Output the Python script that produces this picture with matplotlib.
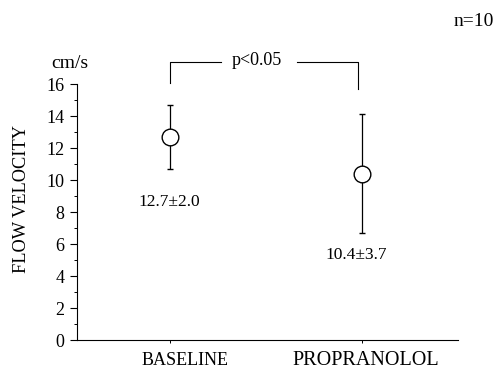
import matplotlib
matplotlib.use("Agg")
import matplotlib.pyplot as plt
from matplotlib.ticker import MultipleLocator

# data
groups = ["BASELINE", "PROPRANOLOL"]
means = [12.7, 10.4]
sds = [2.0, 3.7]
value_labels = ["12.7\u00b12.0", "10.4\u00b13.7"]
label_y = [8.6, 5.3]

plt.rcParams['font.family'] = ['Liberation Serif', 'DejaVu Serif']

fig = plt.figure(figsize=(4.98, 3.72), dpi=100)
ax = fig.add_axes([0.155, 0.086, 0.765, 0.688])

x = [0, 1]
ax.errorbar(x, means, yerr=sds, fmt='o', color='black', mfc='white', mec='black',
            ms=12, mew=1.0, elinewidth=0.9, capsize=2, capthick=0.9, zorder=3)

# value labels, slightly off-centre as in the original
ax.text(x[0], label_y[0], value_labels[0], ha='center', va='center', fontsize=12.5)
ax.text(x[1] - 0.03, label_y[1], value_labels[1], ha='center', va='center', fontsize=12.5)

# significance bracket
ax.plot([0.0, 0.0, 0.27], [16.05, 17.4, 17.4], color='black', lw=0.8, clip_on=False)
ax.plot([0.66, 0.98, 0.98], [17.4, 17.4, 15.7], color='black', lw=0.8, clip_on=False)
ax.text(0.455, 17.45, "p<0.05", ha='center', va='center', fontsize=13)

ax.set_xlim(-0.48, 1.5)
ax.set_ylim(0, 16)
ax.set_xticks(x)
ax.set_xticklabels([])
# group names as text, centred a bit right of the ticks like the original
ax.text(0.08, -1.3, groups[0], ha='center', va='center', fontsize=13)
ax.text(1.02, -1.3, groups[1], ha='center', va='center', fontsize=14.5)

ax.yaxis.set_major_locator(MultipleLocator(2))
ax.yaxis.set_minor_locator(MultipleLocator(1))
ax.tick_params(axis='y', labelsize=13, length=5, width=0.8, pad=4, direction='out')
ax.tick_params(axis='y', which='minor', length=2.5, width=0.7)
ax.tick_params(axis='x', length=2, width=0.7)
ax.spines['top'].set_visible(False)
ax.spines['right'].set_visible(False)
ax.spines['left'].set_linewidth(0.8)
ax.spines['bottom'].set_linewidth(0.8)

ax.set_ylabel("FLOW VELOCITY", fontsize=13.2)
ax.yaxis.set_label_coords(-0.125, 0.55)
fig.text(0.102, 0.83, "cm/s", fontsize=14, ha='left', va='center')
fig.text(0.91, 0.943, "n=10", fontsize=14, ha='left', va='center')

fig.savefig("out.png", dpi=100)
